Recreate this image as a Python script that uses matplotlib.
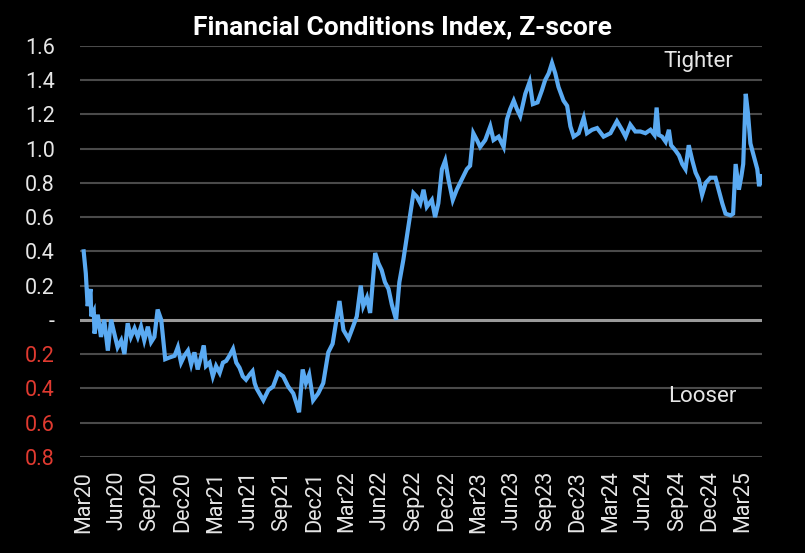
import pandas as pd
import matplotlib
matplotlib.use("Agg")
import matplotlib.pyplot as plt
import matplotlib.dates as mdates
from matplotlib.ticker import FuncFormatter

# values
dates = [
    "2020-03-01", "2020-03-07", "2020-03-12", "2020-03-20", "2020-03-22", "2020-03-29", "2020-03-31",
    "2020-04-09", "2020-04-18", "2020-04-27", "2020-05-07", "2020-05-16", "2020-05-25", "2020-06-03",
    "2020-06-13", "2020-06-22", "2020-07-01", "2020-07-10", "2020-07-20", "2020-07-29", "2020-08-07",
    "2020-08-16", "2020-08-26", "2020-09-04", "2020-09-13", "2020-09-22", "2020-10-02", "2020-10-13",
    "2020-10-25", "2020-11-08", "2020-11-17", "2020-11-26", "2020-12-05", "2020-12-15", "2020-12-24",
    "2021-01-02", "2021-01-11", "2021-01-21", "2021-01-28", "2021-02-03", "2021-02-13", "2021-02-22",
    "2021-03-03", "2021-03-13", "2021-03-22", "2021-03-31", "2021-04-09", "2021-04-19", "2021-04-28",
    "2021-05-07", "2021-05-16", "2021-05-25", "2021-06-04", "2021-06-12", "2021-06-18", "2021-06-23",
    "2021-07-12", "2021-07-26", "2021-08-08", "2021-08-22", "2021-09-05", "2021-09-19", "2021-10-03",
    "2021-10-12", "2021-10-19", "2021-10-29", "2021-11-07", "2021-11-16", "2021-11-27", "2021-12-11",
    "2021-12-25", "2022-01-08", "2022-01-20", "2022-01-29", "2022-02-08", "2022-02-19", "2022-03-05",
    "2022-03-14", "2022-03-28", "2022-04-08", "2022-04-15", "2022-04-25", "2022-05-04", "2022-05-18",
    "2022-05-27", "2022-06-05", "2022-06-14", "2022-06-24", "2022-07-03", "2022-07-15", "2022-07-24",
    "2022-08-04", "2022-08-14", "2022-08-23", "2022-09-01", "2022-09-10", "2022-09-20", "2022-09-29",
    "2022-10-08", "2022-10-22", "2022-10-31", "2022-11-09", "2022-11-19", "2022-11-28", "2022-12-07",
    "2022-12-19", "2022-12-30", "2023-01-13", "2023-01-27", "2023-02-05", "2023-02-14", "2023-02-24",
    "2023-03-05", "2023-03-19", "2023-04-02", "2023-04-11", "2023-04-25", "2023-05-09", "2023-05-18",
    "2023-05-27", "2023-06-06", "2023-06-15", "2023-06-24", "2023-07-08", "2023-07-20", "2023-07-29",
    "2023-08-11", "2023-08-23", "2023-09-01", "2023-09-11", "2023-09-20", "2023-09-29", "2023-10-08",
    "2023-10-22", "2023-11-01", "2023-11-10", "2023-11-19", "2023-12-03", "2023-12-17", "2023-12-26",
    "2024-01-09", "2024-01-23", "2024-02-10", "2024-02-29", "2024-03-18", "2024-04-01", "2024-04-11",
    "2024-04-24", "2024-05-08", "2024-05-22", "2024-06-05", "2024-06-19", "2024-06-30", "2024-07-06",
    "2024-07-12", "2024-07-21", "2024-07-31", "2024-08-09", "2024-08-15", "2024-08-27", "2024-09-06",
    "2024-09-15", "2024-09-24", "2024-10-03", "2024-10-13", "2024-10-22", "2024-10-31", "2024-11-09",
    "2024-11-19", "2024-12-02", "2024-12-16", "2024-12-25", "2025-01-04", "2025-01-13", "2025-01-27",
    "2025-02-03", "2025-02-10", "2025-02-19", "2025-02-26", "2025-03-03", "2025-03-10", "2025-03-16",
    "2025-03-23", "2025-04-02", "2025-04-11", "2025-04-16", "2025-04-22", "2025-04-25",
]
fci = [
    0.40, 0.27, 0.08, 0.18, 0.02, 0.05, -0.08,
    0.03, -0.10, 0.00, -0.18, 0.00, -0.08, -0.16,
    -0.12, -0.20, -0.02, -0.10, -0.05, -0.10, -0.04,
    -0.12, -0.04, -0.13, -0.10, 0.06, 0.00, -0.23,
    -0.22, -0.21, -0.16, -0.25, -0.21, -0.18, -0.26,
    -0.19, -0.29, -0.21, -0.15, -0.27, -0.25, -0.33,
    -0.27, -0.31, -0.25, -0.24, -0.21, -0.17, -0.25,
    -0.28, -0.33, -0.35, -0.32, -0.30, -0.37, -0.40,
    -0.47, -0.41, -0.39, -0.31, -0.33, -0.39, -0.43,
    -0.49, -0.54, -0.29, -0.37, -0.32, -0.47, -0.43,
    -0.37, -0.19, -0.14, -0.02, 0.11, -0.06, -0.11,
    -0.06, 0.02, 0.20, 0.08, 0.13, 0.04, 0.39,
    0.33, 0.29, 0.22, 0.18, 0.09, 0.00, 0.22,
    0.35, 0.49, 0.62, 0.74, 0.72, 0.68, 0.76,
    0.66, 0.70, 0.60, 0.68, 0.88, 0.93, 0.82,
    0.70, 0.76, 0.82, 0.88, 0.90, 1.09, 1.05,
    1.01, 1.05, 1.13, 1.05, 1.07, 1.01, 1.17,
    1.23, 1.28, 1.23, 1.19, 1.32, 1.39, 1.26,
    1.27, 1.34, 1.40, 1.44, 1.50, 1.44, 1.36,
    1.28, 1.25, 1.13, 1.07, 1.09, 1.18, 1.09,
    1.11, 1.12, 1.07, 1.09, 1.16, 1.11, 1.07,
    1.14, 1.10, 1.10, 1.09, 1.11, 1.08, 1.24,
    1.08, 1.07, 1.04, 1.11, 1.02, 0.99, 0.96,
    0.91, 0.88, 1.02, 0.93, 0.86, 0.82, 0.73,
    0.80, 0.83, 0.83, 0.76, 0.68, 0.62, 0.61,
    0.62, 0.91, 0.76, 0.84, 0.91, 1.32, 1.21,
    1.03, 0.95, 0.88, 0.78, 0.85, 0.80,
]
y_ticks = [-0.8, -0.6, -0.4, -0.2, 0.0, 0.2, 0.4, 0.6, 0.8, 1.0, 1.2, 1.4, 1.6]
title = "Financial Conditions Index, Z-score"

dates = pd.to_datetime(dates)

plt.rcParams["font.family"] = ["Roboto", "DejaVu Sans"]

fig = plt.figure(figsize=(8.05, 5.53), dpi=100, facecolor="black")
ax = fig.add_axes([0.099, 0.174, 0.848, 0.743], facecolor="black")

for t in y_ticks:
    if t == 0:
        ax.axhline(t, color="#9a9a9a", lw=2.2, zorder=1)
    else:
        ax.axhline(t, color="#4a4a4a", lw=1.5, zorder=1)

ax.plot(dates, fci, color="#5aaaf2", lw=3.0, zorder=3, solid_joinstyle="miter")

ax.set_ylim(-0.8, 1.6)
ax.set_xlim(pd.Timestamp("2020-02-19"), pd.Timestamp("2025-04-25"))
ax.set_yticks(y_ticks)


def fmt(v, pos):
    if abs(v) < 1e-9:
        return "-"
    return f"{abs(v):.1f}"


ax.yaxis.set_major_formatter(FuncFormatter(fmt))
for lab, t in zip(ax.get_yticklabels(), y_ticks):
    lab.set_color("#e03a30" if t < 0 else "#e6e6e6")

ax.xaxis.set_major_locator(mdates.MonthLocator(bymonth=[3, 6, 9, 12]))
ax.xaxis.set_major_formatter(mdates.DateFormatter("%b%y"))
ax.tick_params(axis="x", colors="#e6e6e6", labelsize=15.5, rotation=90, length=0, pad=10)
ax.tick_params(axis="y", labelsize=15.5, length=0, pad=18)

for s in ax.spines.values():
    s.set_visible(False)

ax.text(0.906, 0.961, "Tighter", transform=ax.transAxes, color="#e6e6e6",
        fontsize=16, ha="center", va="center")
ax.text(0.912, 0.146, "Looser", transform=ax.transAxes, color="#e6e6e6",
        fontsize=16, ha="center", va="center")

fig.text(0.5, 0.951, title, color="white", fontsize=19, fontweight="bold",
         ha="center", va="center")

fig.savefig("out.png", dpi=100, facecolor="black")
